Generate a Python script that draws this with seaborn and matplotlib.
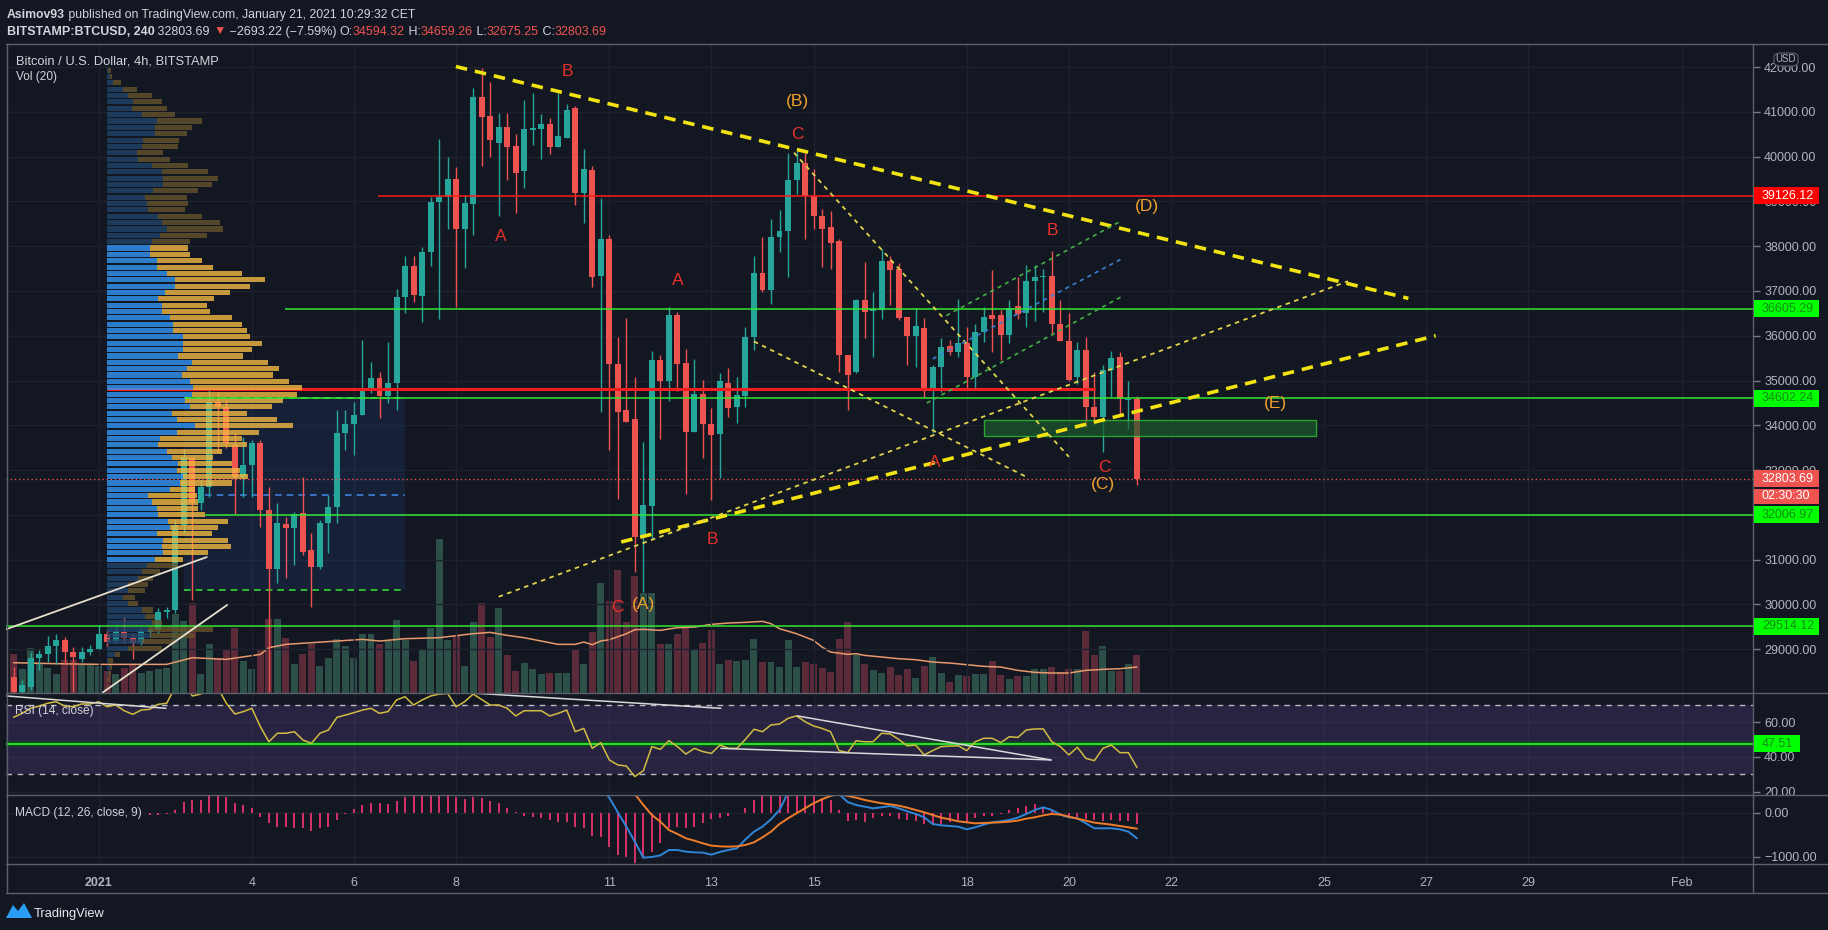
import matplotlib
matplotlib.use("Agg")
import matplotlib.pyplot as plt
import matplotlib.transforms as mtransforms
from matplotlib import font_manager
from matplotlib.lines import Line2D
from matplotlib.patches import Rectangle, Polygon, FancyBboxPatch
import numpy as np
import seaborn as sns

# ---------------------------------------------------------------- data
# 4h bars, bar 0 = Jan 1 2021 00:00, first visible bar = Dec 30 08:00
first_bar = -10

opens = [
    28380, 28050, 28160, 28810, 28890, 29070, 29200, 28940, 28790, 28930,
    29010, 29350, 29180, 29390, 29260, 29140, 29380, 29440, 29840, 29870,
    31770, 33280, 32260, 32630, 34530, 34420, 33560, 32850, 33110, 33600,
    32110, 30800, 31790, 31700, 32050, 31210, 30840, 31810, 32180, 33820,
    34040, 34230, 34790, 35050, 34660, 34940, 36860, 37560, 36880, 37860,
    38980, 39110, 39510, 38380, 38940, 41340, 40900, 40300, 40660, 40240,
    39670, 40600, 40610, 40730, 40220, 40420, 41080, 39190, 39710, 37340,
    38170, 35370, 34340, 34150, 31510, 32190, 35450, 34990, 36460, 35390,
    33840, 34700, 34040, 33800, 34940, 34420, 34650, 35970, 37400, 37030,
    38200, 38330, 39480, 39850, 39130, 38680, 38420, 38110, 35570, 35200,
    36790, 36550, 36580, 37680, 37490, 36420, 36000, 36180, 34830, 35310,
    35770, 35640, 35830, 35080, 36090, 36460, 36460, 36010, 36670, 36500,
    37220, 37320, 37340, 36270, 35890, 35080, 35690, 34410, 34190, 35230,
    35520, 34560, 34594,
]
highs = [
    28610, 28310, 28940, 28980, 29290, 29340, 29280, 29050, 29050, 29090,
    29540, 29430, 29540, 29720, 29350, 29500, 29500, 29910, 29950, 31900,
    33480, 33300, 32780, 34790, 34750, 34570, 33820, 33750, 33670, 33670,
    32630, 32260, 31960, 32070, 32850, 31590, 31880, 32440, 34340, 34340,
    34530, 35900, 35420, 35200, 35870, 37050, 37790, 37790, 37990, 39110,
    40400, 40000, 39760, 39150, 41540, 41990, 41660, 40980, 40980, 40500,
    41270, 41420, 40960, 40860, 41430, 41180, 41140, 40180, 39790, 39070,
    38250, 35970, 36400, 35090, 33620, 35650, 35570, 36640, 36520, 35700,
    35490, 35010, 34380, 35160, 35270, 35080, 36200, 37790, 38200, 38610,
    38810, 40090, 40130, 40090, 39720, 38830, 38790, 38160, 35570, 36830,
    37640, 36980, 37940, 37790, 37620, 36420, 36610, 36400, 35340, 35940,
    35900, 36830, 36200, 36270, 36640, 37470, 36570, 36790, 37310, 37570,
    37570, 37490, 37900, 36790, 36500, 35860, 35970, 35190, 35340, 35670,
    35630, 35000, 34659,
]
lows = [
    28000, 28000, 28080, 28530, 28720, 28680, 28680, 28050, 28720, 28870,
    29010, 29050, 29130, 29130, 28790, 29090, 29280, 29350, 29700, 29800,
    31600, 30100, 32110, 32400, 33410, 33500, 32030, 32400, 32400, 31730,
    28050, 30470, 30580, 30880, 31100, 29950, 30800, 31140, 31810, 33450,
    33340, 34230, 34720, 34170, 34500, 34350, 36500, 36760, 36310, 37560,
    36370, 38390, 36640, 37520, 38240, 39790, 39990, 38670, 39470, 38750,
    39310, 40260, 39950, 40070, 40220, 40420, 38910, 38510, 37080, 34300,
    33460, 32350, 34070, 30720, 30280, 31470, 33700, 34540, 34770, 32470,
    33840, 33260, 32340, 32820, 34190, 34050, 34420, 35680, 36980, 36720,
    37870, 37310, 39160, 38160, 38380, 37530, 37490, 35200, 34340, 35160,
    35940, 35530, 36370, 36680, 36350, 35340, 35310, 34640, 33820, 34750,
    35570, 35530, 34830, 34830, 35860, 35640, 35460, 35830, 36380, 36190,
    36340, 36530, 36010, 35890, 35000, 34930, 33960, 34000, 33400, 34630,
    34260, 33920, 32675,
]
closes = [
    28050, 28200, 28810, 28890, 29070, 29200, 28940, 28830, 28940, 29010,
    29350, 29160, 29410, 29240, 29140, 29410, 29440, 29840, 29870, 31770,
    33300, 32260, 32630, 34530, 34420, 33600, 32850, 33110, 33600, 32110,
    30800, 31810, 31700, 32030, 31180, 30840, 31810, 32180, 33820, 34040,
    34230, 34790, 35050, 34660, 34940, 36870, 37560, 36900, 37880, 38990,
    39110, 39510, 38390, 38970, 41340, 40880, 40370, 40660, 40220, 39630,
    40620, 40650, 40730, 40220, 40460, 41040, 39190, 39730, 37320, 38170,
    35370, 34300, 34070, 31510, 32230, 35470, 34990, 36460, 35370, 33840,
    34700, 34040, 33790, 34990, 34380, 34680, 35970, 37400, 37030, 38210,
    38350, 39480, 39850, 39130, 38680, 38380, 38070, 35570, 35120, 36790,
    36530, 36600, 37680, 37460, 36400, 36000, 36210, 34830, 35310, 35740,
    35640, 35830, 35080, 36090, 36420, 36380, 36010, 36610, 36490, 37220,
    37320, 37340, 36270, 35890, 35020, 35690, 34410, 34190, 35230, 35500,
    34590, 34594, 32804,
]
volumes = [
    115, 70, 135, 90, 75, 55, 97, 97, 85, 85,
    80, 65, 55, 75, 85, 60, 65, 70, 75, 235,
    215, 270, 55, 145, 105, 130, 195, 95, 70, 130,
    220, 220, 165, 85, 115, 145, 80, 105, 160, 140,
    105, 175, 175, 145, 155, 217, 157, 94, 127, 194,
    460, 159, 169, 80, 211, 269, 167, 255, 112, 64,
    90, 70, 57, 60, 60, 60, 127, 87, 181, 329,
    274, 367, 211, 350, 300, 300, 147, 145, 177, 199,
    132, 149, 187, 85, 97, 94, 97, 160, 92, 92,
    77, 157, 77, 92, 85, 74, 62, 160, 211, 112,
    85, 67, 60, 77, 52, 70, 44, 80, 107, 59,
    32, 52, 49, 55, 55, 94, 52, 40, 50, 49,
    72, 72, 77, 62, 72, 72, 184, 112, 139, 64,
    64, 87, 112,
]
vol_ma_bars = [-10, -5, 0, 4, 8, 11, 15, 19, 20, 22, 25, 28, 31, 33, 36, 40,
               44, 46, 48, 50, 52, 54, 56, 57, 58, 59, 60, 62, 63, 64, 66, 68,
               70, 72, 74, 76, 78, 79, 80, 82, 84, 85, 86, 88, 89, 90, 92, 94,
               96, 98, 100, 102, 104, 106, 108, 110, 112, 114, 116, 118, 120, 122]
vol_ma = [90, 87, 85, 85, 85, 105, 100, 115, 135, 145, 150, 155, 160, 155, 162, 165,
          177, 181, 172, 165, 155, 145, 145, 152, 144, 155, 159, 177, 189, 190, 187, 195,
          197, 205, 209, 211, 214, 207, 192, 177, 157, 137, 122, 115, 117, 112, 107, 102,
          99, 92, 89, 84, 79, 77, 67, 61, 59, 59, 67, 70, 72, 77]

rsi = [
    62.9, 65.2, 68.1, 69.4, 71.0, 71.9, 69.4, 69.0, 70.6, 70.6,
    71.9, 69.0, 70.0, 66.7, 64.6, 67.1, 67.5, 70.4, 71.0, 80.6,
    84.0, 75.2, 76.3, 83.0, 80.0, 71.0, 64.8, 66.2, 68.1, 57.5,
    48.8, 53.7, 53.7, 54.6, 49.8, 47.9, 53.7, 55.6, 62.9, 64.2,
    65.6, 67.1, 68.1, 65.2, 66.2, 72.9, 74.8, 70.0, 72.9, 75.2,
    76.3, 76.7, 69.0, 71.9, 76.3, 73.2, 70.0, 70.0, 68.1, 63.7,
    66.7, 66.7, 66.7, 63.7, 65.2, 67.1, 54.6, 56.5, 45.0, 48.3,
    38.3, 35.4, 34.8, 28.7, 32.1, 46.0, 44.4, 49.4, 46.0, 41.7,
    45.0, 43.1, 42.1, 46.9, 45.0, 45.0, 50.2, 56.0, 54.6, 58.5,
    59.0, 62.3, 63.7, 60.4, 57.9, 56.5, 54.6, 43.7, 42.5, 49.4,
    48.8, 48.8, 53.7, 53.3, 50.2, 46.5, 46.9, 41.2, 43.7, 46.0,
    46.3, 46.5, 43.7, 48.8, 50.8, 50.8, 48.3, 51.7, 51.3, 55.6,
    56.2, 56.2, 48.8, 46.0, 41.2, 45.6, 39.2, 37.9, 45.0, 46.9,
    42.5, 42.5, 34.0,
]
rsi_lines = [((-10.8, 75.2), (7.9, 68.1)), ((43.2, 77.1), (73.1, 68.1)),
             ((82.1, 63.7), (111.9, 38.3)), ((73.1, 45.0), (111.9, 38.3))]
rsi_level = 47.51

hist_first_bar = 6
macd_hist = [
    -50, -50, -30, 60, 250, 285, 285, 400, 400, 360,
    225, 165, 113, -90, -240, -315, -315, -355, -355, -405,
    -355, -315, -165, -30, 75, 175, 210, 210, 195, 270,
    345, 375, 400, 400, 400, 375, 345, 300, 345, 325,
    270, 210, 100, 15, -75, -90, -130, -165, -200, -200,
    -315, -355, -530, -560, -765, -955, -990, -1130, -1030, -880,
    -690, -355, -315, -355, -315, -240, -150, -130, -75, -15,
    100, 285, 400, 400, 400, 400, 400, 400, 400, 325,
    285, 60, -180, -165, -200, -130, -75, -75, -150, -165,
    -180, -255, -280, -255, -200, -165, -200, -130, -75, -75,
    -30, 60, 100, 150, 195, 135, 75, -50, -105, -105,
    -150, -165, -180, -165, -180, -180, -255,
]
line_first_bar = 59
macd_line = [
    550, 338, 8, -316, -654, -1015, -1000, -963, -842, -842,
    -880, -895, -902, -948, -887, -842, -805, -602, -429, -316,
    -150, 60, 450, 560, 600, 600, 580, 540, 420, 240,
    173, 135, 98, 120, 150, 98, 30, -30, -105, -256,
    -286, -301, -316, -376, -331, -271, -218, -196, -165, -113,
    -30, 60, 120, 60, -45, -105, -128, -241, -353, -353,
    -353, -376, -429, -579,
]
signal_line = [
    1110, 1100, 960, 670, 420, 173, -53, -203, -391, -481,
    -579, -632, -692, -744, -760, -767, -760, -729, -669, -556,
    -429, -256, -128, -15, 98, 211, 301, 376, 420, 376,
    338, 286, 248, 211, 188, 158, 113, 60, 8, -53,
    -113, -150, -196, -218, -241, -233, -226, -218, -203, -180,
    -135, -105, -60, -30, -45, -90, -135, -180, -226, -248,
    -271, -301, -331, -361,
]

# visible-range volume profile, rows from top to bottom
profile_top, profile_bottom = 41931, 28174
profile_up = [
    5, 10, 20, 50, 65, 80, 75, 105, 150, 145,
    145, 110, 105, 90, 95, 135, 165, 170, 170, 140,
    115, 120, 125, 155, 165, 180, 160, 135, 130, 130,
    150, 150, 180, 205, 205, 175, 155, 165, 165, 190,
    200, 200, 230, 230, 230, 215, 255, 240, 227, 250,
    260, 255, 235, 250, 195, 210, 265, 210, 160, 155,
    180, 195, 215, 210, 230, 220, 190, 125, 135, 150,
    155, 185, 190, 150, 170, 165, 170, 145, 120, 105,
    95, 65, 65, 50, 65, 105, 115, 135, 125, 130,
    105, 65, 25, 5, 10, 5, 0, 0,
]
profile_total = [
    13, 15, 43, 90, 135, 165, 180, 205, 287, 255,
    240, 217, 215, 170, 190, 245, 305, 335, 315, 275,
    240, 245, 235, 285, 340, 350, 300, 250, 245, 250,
    287, 320, 405, 475, 430, 370, 323, 300, 310, 377,
    405, 420, 430, 465, 435, 408, 483, 518, 498, 548,
    587, 570, 530, 495, 420, 510, 560, 458, 405, 420,
    345, 320, 375, 400, 423, 375, 265, 270, 275, 275,
    295, 363, 335, 315, 365, 373, 305, 230, 215, 160,
    140, 125, 115, 85, 95, 140, 145, 165, 320, 265,
    205, 165, 40, 20, 15, 13, 10, 5,
]
value_area_rows = (28, 77)
poc_price = 34815

# drawn horizontal levels: (price, first bar, colour)
levels = [
    (39126.12, 32.8, '#ff1a1a'),
    (36605.29, 21.9, '#33e633'),
    (34602.24, 10.1, '#33e633'),
    (32006.97, 12.5, '#33e633'),
    (29514.12, -11.0, '#33e633'),
]
last_price = 32803.69
zone = (104.0, 143.0, 33772, 34124)
fixed_range = (10.0, 36.0, 30320, 34602, 32440)

thick_trend = [((41.97, 42013), (153.9, 36835)), ((61.4, 31395), (157.1, 36002))]
thin_trend = [((47.0, 30172), (146.8, 37219)), ((81.7, 40089), (114.0, 33297)),
              ((77.0, 35873), (109.0, 32850))]
green_channel = [((99.6, 36449), (120.0, 38549)), ((97.3, 34496), (120.2, 36875))]
blue_mid = [((98.0, 35484), (120.2, 37717))]
white_lines = [((-10.9, 29444), (12.7, 31058)), ((0.5, 28038), (15.1, 29989))]

wave_labels = [
    ('B', 55.1, 41911, 'r'), ('A', 47.2, 38214, 'r'), ('A', 68.1, 37225, 'r'),
    ('C', 82.1, 40504, 'r'), ('B', 112.1, 38344, 'r'), ('A', 98.2, 33165, 'r'),
    ('C', 118.2, 33060, 'r'), ('B', 72.1, 31446, 'r'), ('C', 61.0, 29938, 'r'),
    ('(B)', 82.1, 41234, 'o'), ('(D)', 123.2, 38890, 'o'), ('(E)', 138.3, 34493, 'o'),
    ('(C)', 118.0, 32677, 'o'), ('(A)', 64.0, 29989, 'o'),
]

day_ticks = [1, 4, 6, 8, 11, 13, 15, 18, 20, 22, 25, 27, 29, 32]
day_labels = ['2021', '4', '6', '8', '11', '13', '15', '18', '20', '22', '25', '27', '29', 'Feb']
price_ticks = list(range(29000, 42001, 1000))

# ---------------------------------------------------------------- style
W, H = 1828, 930
BG = '#131722'
TXT = '#d1d4dc'
AXT = '#b2b5be'
UP, DOWN = '#26a69a', '#ef5350'
FRAME = '#5d606b'
GRID = '#1e2230'

sns.set_theme(style='dark', rc={'axes.facecolor': BG, 'figure.facecolor': BG,
                                'savefig.facecolor': BG, 'text.color': TXT})
names = {f.name for f in font_manager.fontManager.ttflist}
FONT = next((n for n in ['Liberation Sans', 'Roboto', 'DejaVu Sans'] if n in names), 'DejaVu Sans')
plt.rcParams['font.family'] = [FONT, 'DejaVu Sans']

fig = plt.figure(figsize=(W / 100, H / 100), dpi=100)


def px_box(x0, y0, x1, y1):
    return [x0 / W, 1 - y1 / H, (x1 - x0) / W, (y1 - y0) / H]


ax = fig.add_axes(px_box(6, 44, 1753, 692.7))
ax_rsi = fig.add_axes(px_box(6, 692.7, 1753, 795.3), sharex=ax)
ax_macd = fig.add_axes(px_box(6, 795.3, 1753, 864), sharex=ax)
ax_vol = ax.twinx()
ax_vol.set_zorder(0)
ax.set_zorder(1)
ax.patch.set_visible(False)
ax_vol.set_axis_off()

XMIN, XMAX = -10.89, 194.39
bars = np.arange(first_bar, first_bar + len(closes))
o, hi, lo, c = (np.array(v, dtype=float) for v in (opens, highs, lows, closes))
up = c >= o

# volume + MA
ax_vol.bar(bars, volumes, width=0.82, color=np.where(up, '#2c5048', '#5c2b39'), linewidth=0)
sns.lineplot(x=vol_ma_bars, y=vol_ma, ax=ax_vol, color='#e89a6c', linewidth=1.1)
ax_vol.set_ylim(0, 648.7 * 3)

# fixed range box
fx0, fx1, fb, ft, fpoc = fixed_range
ax.add_patch(Rectangle((fx0, fb), fx1 - fx0, ft - fb, facecolor='#1f3d74', alpha=0.28,
                       linewidth=0, zorder=1))
ax.hlines(fpoc, 12.5, fx1, colors='#3d7fd6', linestyles=(0, (4, 3)), linewidth=1.2, zorder=2)
ax.hlines([ft, fb], fx0, fx1, colors='#33d633', linestyles=(0, (4, 3)), linewidth=1.2, zorder=2)

# candles
cols = np.where(up, UP, DOWN)
ax.vlines(bars, lo, hi, colors=cols, linewidth=1.0, zorder=3)
ax.bar(bars, np.maximum(np.abs(c - o), 25), bottom=np.minimum(o, c), width=0.7,
       color=cols, linewidth=0, zorder=3)

# point of control line runs under the profile rows
ax.hlines(poc_price, 0.94, 117.1, colors='#f01e1e', linewidth=2.2, zorder=3.5)

# volume profile
trans = mtransforms.blended_transform_factory(ax.transAxes, ax.transData)
rows = np.linspace(profile_top, profile_bottom, len(profile_total))
row_h = (profile_top - profile_bottom) / (len(profile_total) - 1) * 0.8
left = (106.7 - 6) / 1747
scale = 1 / 3 / 1747
for i, (u, t) in enumerate(zip(profile_up, profile_total)):
    bright = value_area_rows[0] <= i <= value_area_rows[1]
    cu, ct = ('#3396f8', '#f2b942') if bright else ('#21436a', '#64522c')
    ax.add_patch(Rectangle((left, rows[i] - row_h / 2), u * scale, row_h, transform=trans,
                           facecolor=cu, alpha=0.8, linewidth=0, zorder=4))
    ax.add_patch(Rectangle((left + u * scale, rows[i] - row_h / 2), (t - u) * scale, row_h,
                           transform=trans, facecolor=ct, alpha=0.8, linewidth=0, zorder=4))

# levels
for price, start, col in levels:
    ax.hlines(price, start, XMAX, colors=col, linewidth=1.1, zorder=5)
ax.hlines(last_price, XMIN, XMAX, colors=DOWN, linestyles=(0, (1, 2)), linewidth=1, zorder=5)
zx0, zx1, zb, zt = zone
ax.add_patch(Rectangle((zx0, zb), zx1 - zx0, zt - zb, facecolor='#1c5a2c', alpha=0.7,
                       edgecolor='#33d633', linewidth=1, zorder=5))

# trend lines
for (x0, y0), (x1, y1) in thick_trend:
    ax.plot([x0, x1], [y0, y1], color='#f2e310', linewidth=2.6, dashes=(3.2, 2.2), zorder=6)
for (x0, y0), (x1, y1) in thin_trend:
    ax.plot([x0, x1], [y0, y1], color='#e0d54a', linewidth=1.3, dashes=(2.5, 2.5), zorder=6)
for (x0, y0), (x1, y1) in green_channel:
    ax.plot([x0, x1], [y0, y1], color='#43b043', linewidth=1.2, dashes=(2.5, 2.5), zorder=6)
for (x0, y0), (x1, y1) in blue_mid:
    ax.plot([x0, x1], [y0, y1], color='#3a7fd6', linewidth=1.2, dashes=(2.5, 2.5), zorder=6)
for (x0, y0), (x1, y1) in white_lines:
    ax.plot([x0, x1], [y0, y1], color='#e6dfcc', linewidth=1.3, zorder=6)

for txt, x, y, kind in wave_labels:
    ax.text(x, y, txt, color='#e8302a' if kind == 'r' else '#f0a12b', fontsize=12.5,
            ha='center', va='center', zorder=7)

# RSI
ax_rsi.axhspan(30, 70, color='#7e57c2', alpha=0.2, linewidth=0)
ax_rsi.axhline(70, color='#b8bcc6', linestyle=(0, (4, 4)), linewidth=1)
ax_rsi.axhline(30, color='#b8bcc6', linestyle=(0, (4, 4)), linewidth=1)
ax_rsi.axhline(rsi_level, color='#0e4a1c', linewidth=4)
ax_rsi.axhline(rsi_level, color='#2ee02e', linewidth=1.4)
sns.lineplot(x=bars, y=rsi, ax=ax_rsi, color='#d2bd43', linewidth=1.1)
for (x0, y0), (x1, y1) in rsi_lines:
    ax_rsi.plot([x0, x1], [y0, y1], color='#d9d9d9', linewidth=1.1)
ax_rsi.set_ylim(17.9, 77.1)

# MACD
hist_bars = np.arange(hist_first_bar, hist_first_bar + len(macd_hist))
ax_macd.vlines(hist_bars, 0, macd_hist, colors='#e8336d', linewidth=1.3)
line_bars = np.arange(line_first_bar, line_first_bar + len(macd_line))
sns.lineplot(x=line_bars, y=macd_line, ax=ax_macd, color='#2f86d8', linewidth=1.4)
sns.lineplot(x=line_bars, y=signal_line, ax=ax_macd, color='#ef7d2a', linewidth=1.4)
ax_macd.set_ylim(-1158, 391)

# axes cosmetics
tick_pos = [(d - 1) * 6 for d in day_ticks]
for a in (ax, ax_rsi, ax_macd):
    a.set_xlim(XMIN, XMAX)
    for s in a.spines.values():
        s.set_visible(False)
    a.set_xlabel('')
    a.set_ylabel('')
    a.yaxis.tick_right()
    a.grid(True, color=GRID, linewidth=1)
    a.tick_params(axis='y', right=True, left=False, length=5, width=1, color='#787b86',
                  labelcolor=AXT, labelsize=9, pad=3)
ax.set_ylim(28029, 42516)
ax.set_yticks(price_ticks, [f'{p:.2f}' for p in price_ticks])
ax_rsi.set_yticks([20, 40, 60], ['20.00', '40.00', '60.00'])
ax_macd.set_yticks([-1000, 0], ['\u22121000.00', '0.00'])
ax_macd.set_xticks(tick_pos, day_labels)
ax.tick_params(axis='x', labelbottom=False, length=0)
ax_rsi.tick_params(axis='x', labelbottom=False, length=0)
ax_macd.tick_params(axis='x', length=4, width=1, color='#787b86', labelcolor=AXT,
                    labelsize=9, pad=5)
ax_macd.get_xticklabels()[0].set_fontweight('bold')

# frame lines
def hline_px(y, x0=6, x1=1828):
    fig.add_artist(Line2D([x0 / W, x1 / W], [1 - y / H] * 2, color=FRAME, linewidth=1))


def vline_px(x, y0, y1):
    fig.add_artist(Line2D([x / W] * 2, [1 - y0 / H, 1 - y1 / H], color=FRAME, linewidth=1))


for y in (44, 692.7, 795.3, 864, 893.3):
    hline_px(y)
vline_px(6.5, 44, 893.3)
vline_px(1753.3, 44, 893.3)

# right axis value boxes
def fig_y(axis, value):
    return fig.transFigure.inverted().transform(axis.transData.transform((0, value)))[1]


def value_box(axis, value, text, fc, tc, x1=1819, h=17, dy=0):
    yc = fig_y(axis, value) - dy / H
    fig.add_artist(Rectangle((1753.5 / W, yc - h / 2 / H), (x1 - 1753.5) / W, h / H,
                             transform=fig.transFigure, facecolor=fc, linewidth=0, zorder=10))
    fig.text(1762 / W, yc, text, color=tc, fontsize=9, va='center', ha='left', zorder=11)


for price, _, col in levels:
    if col == '#ff1a1a':
        value_box(ax, price, f'{price:.2f}', '#ff0000', '#ffffff')
    else:
        value_box(ax, price, f'{price:.2f}', '#00ff00', '#178a17')
value_box(ax, last_price, f'{last_price:.2f}', DOWN, '#ffffff')
value_box(ax, last_price, '02:30:30', DOWN, '#ffffff', h=15, dy=17.5)
value_box(ax_rsi, rsi_level, f'{rsi_level:.2f}', '#00ff00', '#178a17', x1=1800)

fig.add_artist(FancyBboxPatch((1774 / W, 1 - 66 / H), 24 / W, 13 / H,
                              boxstyle='round,pad=0,rounding_size=0.004',
                              transform=fig.transFigure, facecolor=BG,
                              edgecolor='#50535e', linewidth=1, zorder=10))
fig.text(1786 / W, 1 - 59 / H, 'USD', color=AXT, fontsize=7, ha='center', va='center', zorder=11)

# header and panel captions
renderer = fig.canvas.get_renderer()


def run(x, y, pieces, target=None, size=9):
    if target:
        total = 0
        for s, _, wgt in pieces:
            t = fig.text(0, 0, s, fontsize=10, fontweight=wgt)
            total += t.get_window_extent(renderer).width
            t.remove()
        size = 10 * target / total
    for s, col, wgt in pieces:
        t = fig.text(x / W, 1 - y / H, s, color=col, fontsize=size, fontweight=wgt,
                     ha='left', va='baseline')
        x += t.get_window_extent(renderer).width


RED = '#ef5350'
run(6.7, 18.3, [('Asimov93', TXT, 'bold'),
                (' published on TradingView.com, January 21, 2021 10:29:32 CET', TXT, 'normal')],
    target=408)
run(6.7, 35, [('BITSTAMP:BTCUSD, 240', TXT, 'bold'), (' 32803.69 ', TXT, 'normal'),
              ('\u25bc', RED, 'normal'), (' \u22122693.22 (\u22127.59%) ', TXT, 'normal'),
              ('O:', TXT, 'normal'), ('34594.32', RED, 'normal'),
              (' H:', TXT, 'normal'), ('34659.26', RED, 'normal'),
              (' L:', TXT, 'normal'), ('32675.25', RED, 'normal'),
              (' C:', TXT, 'normal'), ('32803.69', RED, 'normal')], target=598)
run(15.6, 65, [('Bitcoin / U.S. Dollar, 4h, BITSTAMP', TXT, 'normal')], target=203)
run(15.6, 80, [('Vol (20)', TXT, 'normal')], size=8.6)
run(15, 714, [('RSI (14, close)', TXT, 'normal')], size=8.6)
run(15, 816, [('MACD (12, 26, close, 9)', TXT, 'normal')], size=8.6)

# TradingView footer
logo = [(6, 918), (13, 905), (18, 911), (24, 903), (32, 918)]
fig.add_artist(Polygon([(x / W, 1 - y / H) for x, y in logo], closed=True,
                       transform=fig.transFigure, facecolor='#2a9df4', linewidth=0))
run(34, 916.5, [('TradingView', '#e8eaf0', 'normal')], target=71)

fig.savefig('out.png', dpi=100, facecolor=BG)
